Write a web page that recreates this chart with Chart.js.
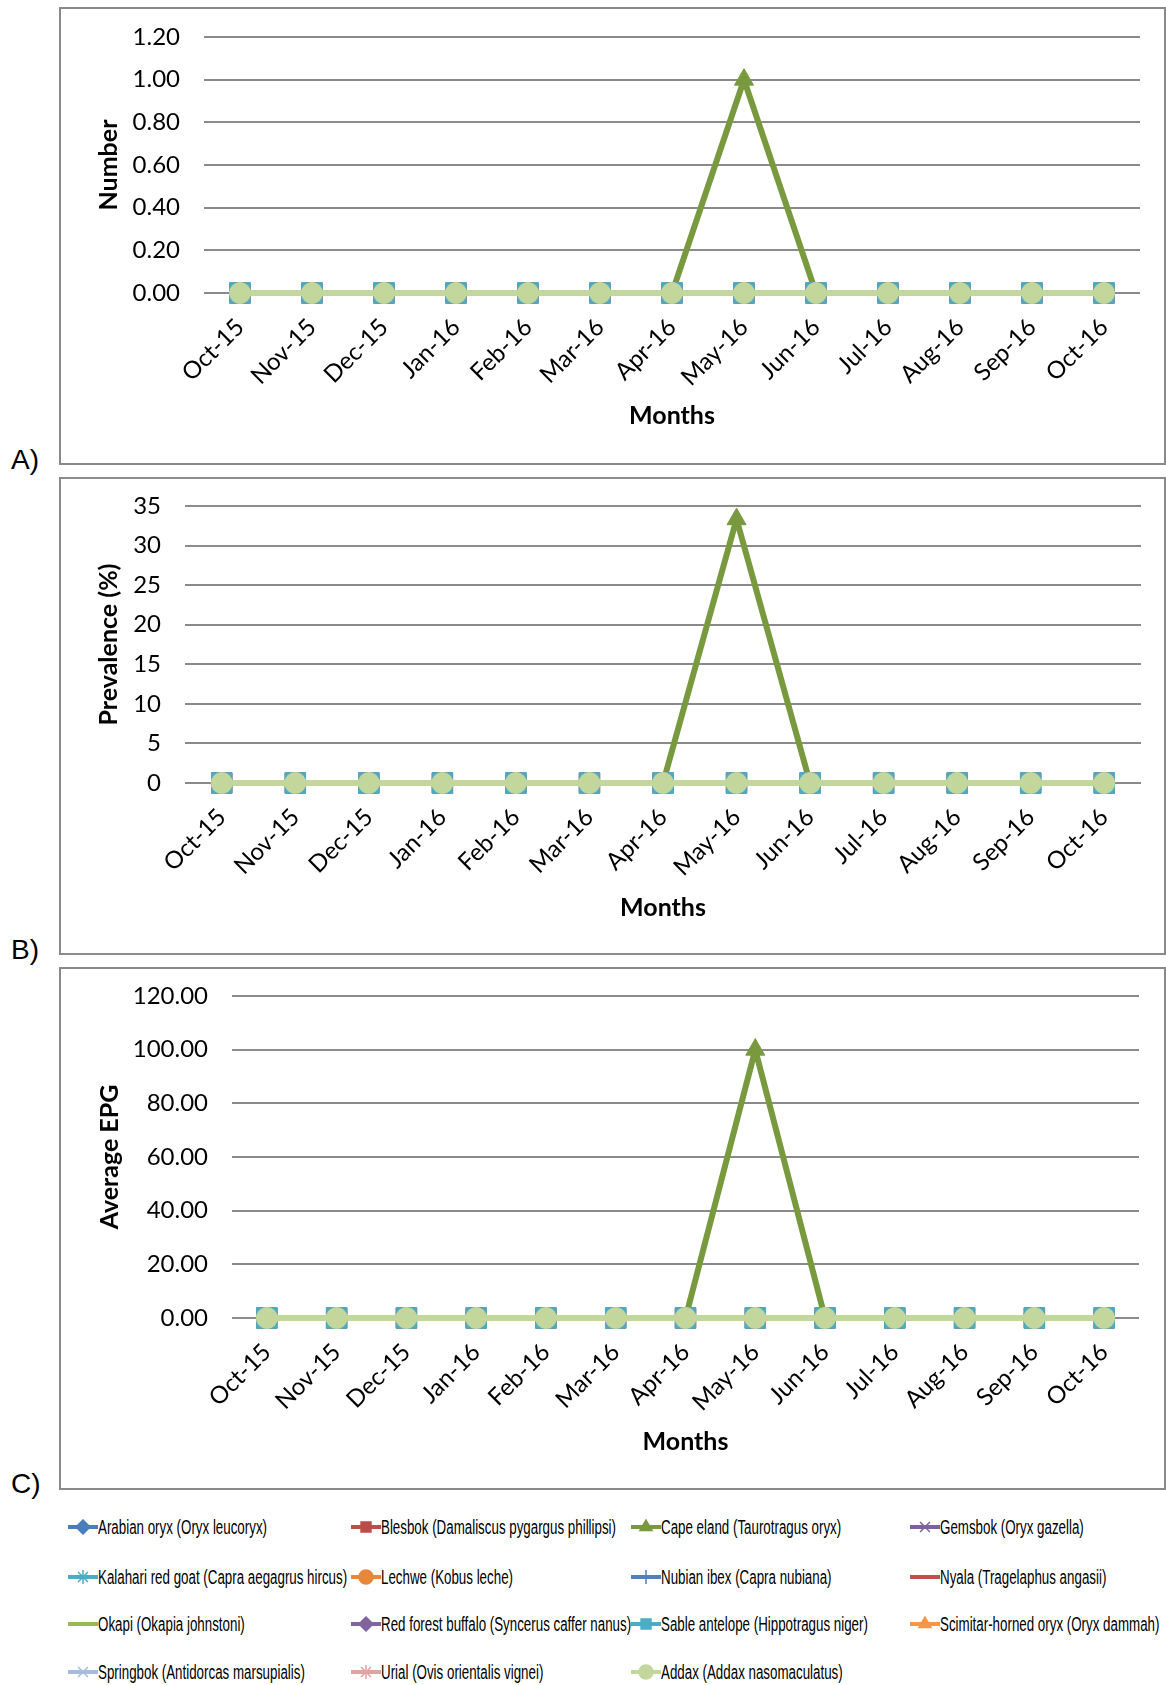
<!DOCTYPE html>
<html>
<head>
<meta charset="utf-8">
<script src="https://cdn.jsdelivr.net/npm/chart.js@4.4.1/dist/chart.umd.min.js"></script>
<style>
  body { margin: 0; background: #fff; width: 1166px; height: 1685px; position: relative; overflow: hidden; }
  .panel { position: absolute; left: 59px; width: 1107px; border: 2px solid #8a8a8a; box-sizing: border-box; }
  .tag { position: absolute; left: 11px; font: 28px "Liberation Sans", Arial, sans-serif; line-height: 28px; color: #000; }
  canvas { position: absolute; }
  .item { position: absolute; height: 24px; white-space: nowrap; }
  .item canvas { position: absolute; left: 0; top: 4px; }
  .item span { position: absolute; display: inline-block; left: 30px; top: 0; font: 20px "Liberation Sans Narrow", "Liberation Sans", sans-serif;
               line-height: 24px; color: #000; transform-origin: left center; }
</style>
</head>
<body>
<script>
// months on the x axis
var months = ['Oct-15', 'Nov-15', 'Dec-15', 'Jan-16', 'Feb-16', 'Mar-16', 'Apr-16',
              'May-16', 'Jun-16', 'Jul-16', 'Aug-16', 'Sep-16', 'Oct-16'];

var species = [
  'Arabian oryx (Oryx leucoryx)',
  'Blesbok (Damaliscus pygargus phillipsi)',
  'Cape eland (Taurotragus oryx)',
  'Gemsbok (Oryx gazella)',
  'Kalahari red goat (Capra aegagrus hircus)',
  'Lechwe (Kobus leche)',
  'Nubian ibex (Capra nubiana)',
  'Nyala (Tragelaphus angasii)',
  'Okapi (Okapia johnstoni)',
  'Red forest buffalo (Syncerus caffer nanus)',
  'Sable antelope (Hippotragus niger)',
  'Scimitar-horned oryx (Oryx dammah)',
  'Springbok (Antidorcas marsupialis)',
  'Urial (Ovis orientalis vignei)',
  'Addax (Addax nasomaculatus)'
];

// Cape eland is the only species with a positive month
var capeElandNumber     = [0, 0, 0, 0, 0, 0, 0, 1, 0, 0, 0, 0, 0];
var capeElandPrevalence = [0, 0, 0, 0, 0, 0, 0, 33.33, 0, 0, 0, 0, 0];
var capeElandEpg        = [0, 0, 0, 0, 0, 0, 0, 100, 0, 0, 0, 0, 0];
// every other species stays at zero
var otherSpecies        = [0, 0, 0, 0, 0, 0, 0, 0, 0, 0, 0, 0, 0];

var seriesColors = ['#4a7ebb', '#be4b48', '#78993e', '#7d60a0', '#4bacc6', '#e8863a', '#4f81bd', '#c0504d',
                    '#98b954', '#8064a2', '#4bacc6', '#f79646', '#a5bde0', '#e3a3a1', '#c3d69b'];
var seriesMarkers = ['rectRot', 'rect', 'triangle', 'crossRot', 'star', 'circle', 'cross', 'line',
                     'line', 'rectRot', 'rect', 'triangle', 'crossRot', 'star', 'circle'];

var panels = [
  { tag: 'A)', tagY: 460, box: [7, 465], area: { left: 204, right: 1140, top: 37, bottom: 293 },
    monthsY: 416, titleX: 109, title: 'Number', max: 1.2, step: 0.2, digits: 2, values: capeElandNumber },
  { tag: 'B)', tagY: 950, box: [477, 955], area: { left: 185, right: 1141, top: 506, bottom: 783 },
    monthsY: 908, titleX: 109, title: 'Prevalence (%)', max: 35, step: 5, digits: 0, values: capeElandPrevalence },
  { tag: 'C)', tagY: 1484, box: [967, 1490], area: { left: 232, right: 1139, top: 996, bottom: 1318 },
    monthsY: 1442, titleX: 110, title: 'Average EPG', max: 120, step: 20, digits: 2, values: capeElandEpg }
];

var tickFont = { family: 'Lato', size: 24 };
var titleFont = { family: 'Lato', size: 25, weight: 'bold' };

function makeDatasets(capeValues) {
  return species.map(function (name, i) {
    var isAddax = i === species.length - 1;
    var isEland = i === 2;
    var bigSquare = seriesMarkers[i] === 'rect';
    return {
      label: name,
      data: isEland ? capeValues : otherSpecies,
      borderColor: seriesColors[i],
      backgroundColor: seriesColors[i],
      borderWidth: isEland ? 6 : (isAddax ? 6 : 4),
      pointStyle: seriesMarkers[i] === 'line' ? false : seriesMarkers[i],
      pointRadius: isAddax ? 10.5 : (bigSquare ? 14.5 : (isEland ? 11 : 9)),
      pointBorderColor: seriesColors[i],
      pointBackgroundColor: seriesColors[i],
      pointBorderWidth: 1,
      tension: 0,
      clip: false,
      order: species.length - i
    };
  });
}

panels.forEach(function (p) {
  var box = document.createElement('div');
  box.className = 'panel';
  box.style.top = p.box[0] + 'px';
  box.style.height = (p.box[1] - p.box[0]) + 'px';
  document.body.appendChild(box);

  var tag = document.createElement('div');
  tag.className = 'tag';
  tag.textContent = p.tag;
  tag.style.top = (p.tagY - 14) + 'px';
  document.body.appendChild(tag);

  var x0 = 61, y0 = p.box[0] + 2;
  var w = 1103, h = p.box[1] - p.box[0] - 4;
  var cv = document.createElement('canvas');
  cv.width = w; cv.height = h;
  cv.style.left = x0 + 'px'; cv.style.top = y0 + 'px';
  document.body.appendChild(cv);

  var lh = titleFont.size * 1.2;

  new Chart(cv, {
    type: 'line',
    data: { labels: months, datasets: makeDatasets(p.values) },
    options: {
      responsive: false,
      animation: false,
      events: [],
      layout: { padding: { left: 0, top: p.area.top - y0, right: x0 + w - p.area.right, bottom: 0 } },
      plugins: { legend: { display: false }, tooltip: { enabled: false } },
      scales: {
        x: {
          offset: true,
          grid: { display: false },
          border: { display: false },
          ticks: { font: tickFont, color: '#000', minRotation: 45, maxRotation: 45, padding: 12, autoSkip: false },
          title: { display: true, text: 'Months', font: titleFont, color: '#000',
                   padding: { top: 0, bottom: (y0 + h) - p.monthsY - lh / 2 } },
          afterFit: function (s) { s.height = (y0 + h) - p.area.bottom; }
        },
        y: {
          min: 0,
          max: p.max,
          grid: { color: '#8a8a8a', lineWidth: 2, drawTicks: false },
          border: { display: false },
          ticks: {
            stepSize: p.step, font: tickFont, color: '#000', padding: 24,
            callback: function (v) { return Number(v).toFixed(p.digits); }
          },
          title: { display: true, text: p.title, font: titleFont, color: '#000',
                   padding: { top: (p.titleX - x0) - lh / 2, bottom: 0 } },
          afterFit: function (s) {
            s.width = p.area.left - x0;
            // keep the chart top where the layout padding puts it
            s.paddingTop = 0;
            s.paddingBottom = 0;
          }
        }
      }
    }
  });
});

// shared legend under the three panels
var legendCols = [68, 351, 631, 910];
var legendRows = [1527, 1577, 1624, 1672];
var firstLabelWidth = 169; // width of the first legend text in the picture
var labels = [];

species.forEach(function (name, i) {
  var item = document.createElement('div');
  item.className = 'item';
  item.style.left = legendCols[i % 4] + 'px';
  item.style.top = (legendRows[Math.floor(i / 4)] - 12) + 'px';

  var icon = document.createElement('canvas');
  icon.width = 30; icon.height = 16;
  var ctx = icon.getContext('2d');
  ctx.strokeStyle = seriesColors[i];
  ctx.lineWidth = 4;
  ctx.beginPath();
  ctx.moveTo(0, 8);
  ctx.lineTo(30, 8);
  ctx.stroke();
  if (seriesMarkers[i] !== 'line' && Chart.helpers && Chart.helpers.drawPoint) {
    ctx.fillStyle = seriesColors[i];
    ctx.lineWidth = 1.5;
    Chart.helpers.drawPoint(ctx, { pointStyle: seriesMarkers[i], radius: 7, rotation: 0, borderWidth: 1.5 }, 15, 8);
  }
  item.appendChild(icon);

  var label = document.createElement('span');
  label.textContent = name;
  item.appendChild(label);
  document.body.appendChild(item);
  labels.push(label);
});

// squeeze the legend text the way the condensed original font looks
var squeeze = firstLabelWidth / labels[0].getBoundingClientRect().width;
labels.forEach(function (l) { l.style.transform = 'scaleX(' + squeeze.toFixed(3) + ')'; });
</script>
</body>
</html>
